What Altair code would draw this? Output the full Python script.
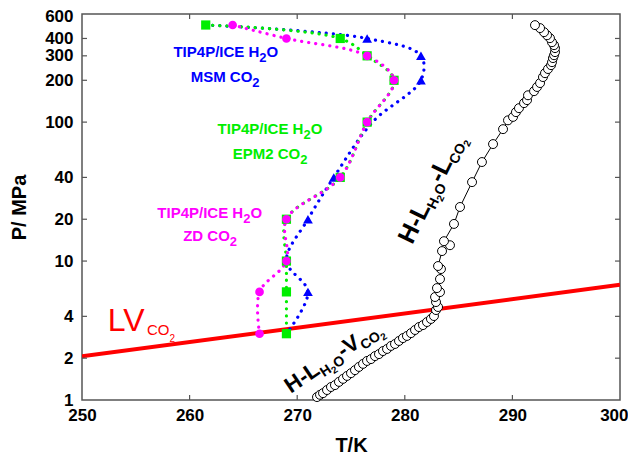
import altair as alt
import pandas as pd

# ---------------- data ----------------
# TIP4P/ICE H2O + MSM CO2 (blue)
msm_T = [261.5, 276.5, 281.5, 281.5, 277.0, 273.4, 271.0, 269.0, 271.0, 269.0]
msm_P = [500, 400, 300, 200, 100, 40, 20, 10, 6, 3]
msm_marker = [False, True, True, True, False, True, True, False, True, False]
# TIP4P/ICE H2O + EPM2 CO2 (green)
epm2_T = [261.5, 274.0, 276.5, 279.0, 276.5, 274.0, 269.0, 269.0, 269.0, 269.0]
epm2_P = [500, 400, 300, 200, 100, 40, 20, 10, 6, 3]
# TIP4P/ICE H2O + ZD CO2 (magenta)
zd_T = [264.0, 269.0, 276.5, 279.0, 276.5, 274.0, 269.0, 269.0, 266.5, 266.5]
zd_P = [500, 400, 300, 200, 100, 40, 20, 10, 6, 3]
# CO2 liquid-vapour line (red)
lv_T = [250, 300]
lv_P = [2.06, 6.75]
# experimental three-phase line (open circles)
exp_T = [271.84, 272.12, 272.40, 272.77, 273.14, 273.51, 273.88, 274.26, 274.63, 275.00,
         275.37, 275.74, 276.12, 276.49, 276.86, 277.23, 277.60, 277.97, 278.35, 278.72,
         279.09, 279.46, 279.83, 280.20, 280.58, 280.95, 281.32, 281.69, 282.06, 282.43,
         282.71,
         282.90, 283.09, 282.90, 282.81, 283.27, 282.99, 283.27, 283.36, 283.09, 283.46,
         284.20, 283.64,
         284.57, 285.13, 286.25, 287.17, 288.20, 289.13, 289.59, 290.06, 290.33, 290.61,
         291.08, 291.36, 291.45, 292.01, 292.29, 292.57, 292.84, 293.03, 293.31, 293.59,
         293.68, 293.77, 293.87, 293.96, 293.96, 293.87, 293.68, 293.49, 293.22, 292.94,
         292.57, 292.10]
exp_P = [1.05, 1.09, 1.12, 1.18, 1.24, 1.28, 1.35, 1.42, 1.49, 1.56,
         1.64, 1.73, 1.82, 1.91, 1.97, 2.07, 2.14, 2.25, 2.33, 2.45,
         2.53, 2.66, 2.79, 2.89, 3.03, 3.19, 3.35, 3.46, 3.64, 3.83,
         4.02,
         4.44, 4.67, 5.07, 5.51, 5.98, 6.39, 7.42, 8.76, 9.21, 11.8,
         13.0, 13.9,
         18.5, 24.5, 37.0, 51.6, 69.5, 89.0, 103, 109, 118, 126,
         137, 144, 156, 167, 179, 191, 211, 225, 241, 257,
         270, 289, 303, 319, 341, 358, 376, 402, 422, 444,
         475, 499]

x_ticks = [250, 260, 270, 280, 290, 300]
y_ticks = [1, 2, 4, 10, 20, 40, 100, 200, 300, 400, 600]
x_inner_ticks = [260, 270, 280, 290]
y_inner_ticks = [2, 4, 10, 20, 40, 100, 200, 300, 400]

# annotation anchors (T, P) and text pieces (text, size, dy)
labels = [
    (258.5, 294, "#0000ff", 0, "bold", [("TIP4P/ICE H", 15, 0), ("2", 13, 5), ("O", 15, 0)]),
    (260.1, 194, "#0000ff", 0, "bold", [("MSM CO", 15, 0), ("2", 13, 5)]),
    (262.6, 82.0, "#00ee00", 0, "bold", [("TIP4P/ICE H", 15, 0), ("2", 13, 5), ("O", 15, 0)]),
    (264.0, 54.2, "#00ee00", 0, "bold", [("EPM2 CO", 15, 0), ("2", 13, 5)]),
    (257.0, 20.4, "#ff00ff", 0, "bold", [("TIP4P/ICE H", 15, 0), ("2", 13, 5), ("O", 15, 0)]),
    (259.4, 13.9, "#ff00ff", 0, "bold", [("ZD CO", 15, 0), ("2", 13, 5)]),
    (252.4, 3.14, "#ff0000", 0, "normal", [("LV", 32, 0), ("CO", 15, 4), ("2", 10, 11)]),
    (280.7, 13.0, "black", 296, "bold", [("H-L", 25, 0), ("H", 14, 5), ("2", 10, 8), ("O", 14, 5),
                                         ("-L", 25, 0), ("CO", 14, 5), ("2", 10, 8)]),
    (269.4, 1.11, "black", 326, "bold", [("H-L", 22, 0), ("H", 14, 5), ("2", 10, 8), ("O", 14, 5),
                                         ("-V", 22, 0), ("CO", 14, 5), ("2", 10, 8)]),
]

FONT = "Liberation Sans"
BOLD_W = {" ": 278, "-": 333, "/": 278, "C": 722, "D": 722, "E": 667, "H": 722, "I": 278,
          "L": 611, "M": 833, "O": 778, "P": 667, "S": 667, "T": 611, "V": 667, "Z": 611}
REG_W = {" ": 278, "-": 333, "C": 722, "L": 556, "O": 778, "V": 667}


def text_width(s, size, weight):
    table = BOLD_W if weight == "bold" else REG_W
    return sum(table.get(c, 556) for c in s) * size / 1000.0


# ---------------- scales / encodings ----------------
xscale = alt.Scale(domain=[250, 300], nice=False, zero=False)
yscale = alt.Scale(type="log", domain=[1, 600], nice=False)
xaxis = alt.Axis(values=x_ticks, format="d", title="T/K", ticks=False, domain=False, grid=False,
                 labelFlush=False, labelOverlap=False, labelPadding=7, titlePadding=12,
                 labelAlign={"condition": {"test": "datum.value >= 300", "value": "right"},
                             "value": "center"},
                 labelOffset={"condition": {"test": "datum.value >= 300", "value": 8},
                              "value": 0})
yaxis = alt.Axis(values=y_ticks, format="d", title="P/ MPa", ticks=False, domain=False, grid=False,
                 labelFlush=False, labelOverlap=False, labelPadding=9, titlePadding=15,
                 labelOffset={"condition": {"test": "datum.value >= 600", "value": 2},
                              "value": 0})


def X(f):
    return alt.X(f, type="quantitative", scale=xscale, axis=xaxis)


def Y(f):
    return alt.Y(f, type="quantitative", scale=yscale, axis=yaxis)


layers = []

# red LV line
lv_df = pd.DataFrame({"T": lv_T, "P": lv_P})
layers.append(alt.Chart(lv_df).mark_line(color="#ff0000", strokeWidth=4, clip=True)
              .encode(x=X("T"), y=Y("P")))

# experimental
exp_df = pd.DataFrame({"T": exp_T, "P": exp_P, "i": list(range(len(exp_T)))})
layers.append(alt.Chart(exp_df).mark_line(color="black", strokeWidth=1)
              .encode(x=X("T"), y=Y("P"), order="i:Q"))
layers.append(alt.Chart(exp_df).mark_point(shape="circle", filled=True, fill="white", stroke="black",
                                           strokeWidth=1, size=80, opacity=1)
              .encode(x=X("T"), y=Y("P")))

# dotted simulation curves
series = [
    (msm_T, msm_P, "#0000ff"),
    (epm2_T, epm2_P, "#00ee00"),
    (zd_T, zd_P, "#ff00ff"),
]
for T, P, col in series:
    df = pd.DataFrame({"T": T, "P": P, "i": list(range(len(T)))})
    layers.append(alt.Chart(df).mark_line(color=col, strokeWidth=3.2, strokeDash=[0.1, 7],
                                          strokeCap="round", interpolate="catmull-rom")
                  .encode(x=X("T"), y=Y("P"), order="i:Q"))

msm_df = pd.DataFrame({"T": msm_T, "P": msm_P, "m": msm_marker})
layers.append(alt.Chart(msm_df).transform_filter("datum.m").mark_point(
    shape="triangle-up", filled=True, color="#0000ff", size=95, opacity=1)
    .encode(x=X("T"), y=Y("P")))
layers.append(alt.Chart(pd.DataFrame({"T": epm2_T, "P": epm2_P})).mark_point(
    shape="square", filled=True, color="#00ee00", size=85, opacity=1)
    .encode(x=X("T"), y=Y("P")))
layers.append(alt.Chart(pd.DataFrame({"T": zd_T, "P": zd_P})).mark_point(
    shape="circle", filled=True, color="#ff00ff", size=75, opacity=1)
    .encode(x=X("T"), y=Y("P")))

# inward ticks
H, W, TL = 386, 538, 5
xt = pd.DataFrame({"T": x_inner_ticks})
yt = pd.DataFrame({"P": y_inner_ticks})
tick_style = dict(color="#555555", strokeWidth=1.2)
layers.append(alt.Chart(xt).mark_rule(**tick_style).encode(x=X("T"), y=alt.value(H), y2=alt.value(H - TL)))
layers.append(alt.Chart(xt).mark_rule(**tick_style).encode(x=X("T"), y=alt.value(0), y2=alt.value(TL)))
layers.append(alt.Chart(yt).mark_rule(**tick_style).encode(y=Y("P"), x=alt.value(0), x2=alt.value(TL)))
layers.append(alt.Chart(yt).mark_rule(**tick_style).encode(y=Y("P"), x=alt.value(W), x2=alt.value(W - TL)))

# annotations
for T0, P0, col, ang, weight, parts in labels:
    dx = 0.0
    adf = pd.DataFrame({"T": [T0], "P": [P0]})
    for txt, size, dy in parts:
        layers.append(alt.Chart(adf).mark_text(text=txt, fontSize=size, dx=dx, dy=dy, angle=ang,
                                               align="left", baseline="alphabetic", font=FONT,
                                               fontWeight=weight, color=col)
                      .encode(x=X("T"), y=Y("P")))
        dx += text_width(txt, size, weight)

chart = alt.layer(*layers).properties(
    width=W, height=H,
    autosize=alt.AutoSizeParams(type="none"),
    padding={"left": 74, "top": 6, "right": 8, "bottom": 55},
    background="white",
).configure_view(stroke="#555555", strokeWidth=1.5).configure_axis(
    labelFont=FONT, labelFontSize=17, labelFontWeight="bold", labelColor="black",
    titleFont=FONT, titleFontSize=20, titleFontWeight="bold", titleColor="black",
)

chart.save("out.html", embed_options={"renderer": "svg", "actions": False})
